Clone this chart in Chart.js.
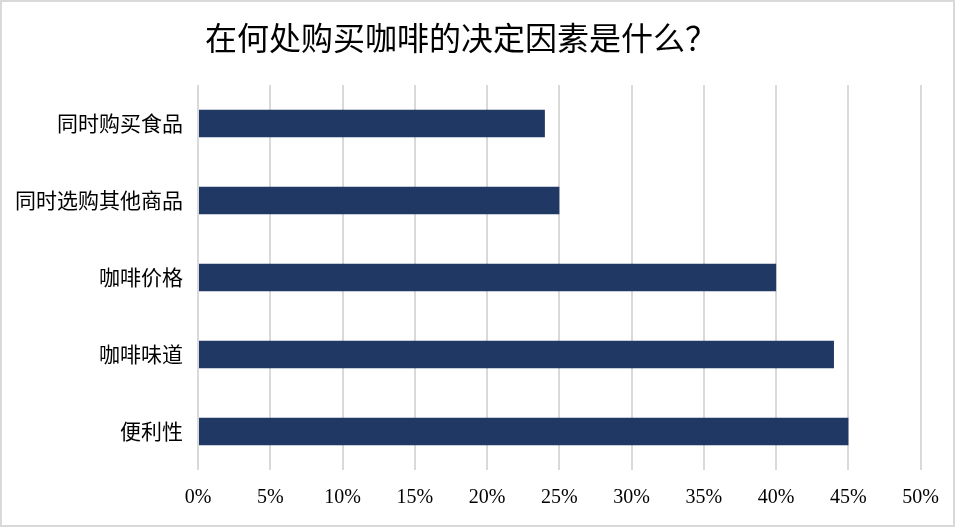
<!DOCTYPE html>
<html>
<head>
<meta charset="utf-8">
<script src="https://cdn.jsdelivr.net/npm/chart.js@4"></script>
<style>
  body { margin: 0; background: #fff; }
</style>
</head>
<body>
<canvas id="buyChart" width="955" height="527"></canvas>
<script>
const labels = ["同时购买食品", "同时选购其他商品", "咖啡价格", "咖啡味道", "便利性"];
const values = [24, 25, 40, 44, 45];
const tickMax = 50;
const tickStep = 5;

// white background + light grey frame round the whole picture
const frame = {
  id: "frame",
  beforeDraw(chart) {
    const ctx = chart.ctx;
    ctx.save();
    ctx.fillStyle = "#fff";
    ctx.fillRect(0, 0, chart.width, chart.height);
    ctx.strokeStyle = "#d9d9d9";
    ctx.lineWidth = 2;
    ctx.strokeRect(1, 1, chart.width - 2, chart.height - 2);
    ctx.restore();
  }
};

new Chart(document.getElementById("buyChart"), {
  type: "bar",
  data: {
    labels: labels,
    datasets: [{
      data: values,
      backgroundColor: "#203864",
      barPercentage: 0.72,
      categoryPercentage: 0.5
    }]
  },
  plugins: [frame],
  options: {
    indexAxis: "y",
    responsive: false,
    animation: false,
    layout: { padding: { left: 0, right: 33, top: 0, bottom: 0 } },
    plugins: {
      legend: { display: false },
      tooltip: { enabled: false },
      title: {
        display: true,
        text: "在何处购买咖啡的决定因素是什么？",
        color: "#000",
        font: { family: "'Noto Sans CJK SC'", size: 32, weight: "normal", lineHeight: 1.2 },
        padding: { top: 19, bottom: 27.6 }
      }
    },
    scales: {
      x: {
        min: 0,
        max: tickMax,
        afterFit: s => { s.height = 57; },
        border: { display: false },
        grid: { color: "#d9d9d9", lineWidth: 2, drawTicks: false },
        ticks: {
          stepSize: tickStep,
          padding: 16,
          color: "#000",
          font: { family: "'Liberation Serif'", size: 20 },
          callback: v => v + "%"
        }
      },
      y: {
        afterFit: s => { s.width = 198; },
        border: { display: false },
        grid: { display: false, drawTicks: false },
        ticks: {
          padding: 15,
          color: "#000",
          font: { family: "'Noto Sans CJK SC'", size: 21 }
        }
      }
    }
  }
});
</script>
</body>
</html>
